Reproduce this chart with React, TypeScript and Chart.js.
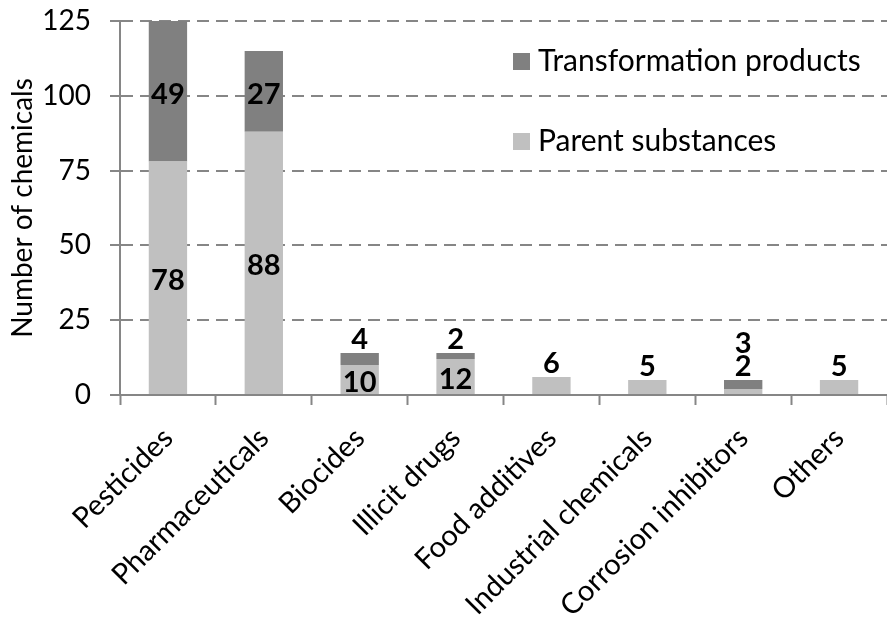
import React, { useEffect, useRef } from "react";
import { Chart, registerables } from "chart.js";

Chart.register(...registerables);

const categories = [
  "Pesticides",
  "Pharmaceuticals",
  "Biocides",
  "Illicit drugs",
  "Food additives",
  "Industrial chemicals",
  "Corrosion inhibitors",
  "Others",
];
const parentSubstances = [78, 88, 10, 12, 6, 5, 2, 5];
const transformationProducts = [49, 27, 4, 2, 0, 0, 3, 0];
const yTicks = [0, 25, 50, 75, 100, 125];

const FONT = "Lato";
const AXIS = "#868686";

const labelPlugin = {
  id: "barLabels",
  afterDatasetsDraw(chart: any) {
    const ctx = chart.ctx;
    const area = chart.chartArea;
    const mp = chart.getDatasetMeta(0);
    const mt = chart.getDatasetMeta(1);
    ctx.save();
    ctx.fillStyle = "#000";
    ctx.font = `bold 29px ${FONT}`;
    ctx.textAlign = "center";
    categories.forEach((_, i) => {
      const bp = mp.data[i];
      const bt = mt.data[i];
      const p = parentSubstances[i];
      const t = transformationProducts[i];
      const top = t > 0 ? bt.y : bp.y;
      let above = Math.max(top, area.top) + 1;
      const hP = bp.base - bp.y;
      if (hP >= 25) {
        ctx.textBaseline = "middle";
        ctx.fillText(String(p), bp.x, (bp.base + bp.y) / 2 + 3);
      } else {
        ctx.textBaseline = "bottom";
        ctx.fillText(String(p), bp.x, above);
        above -= 23;
      }
      if (t > 0) {
        const ty = Math.max(bt.y, area.top);
        const hT = bt.base - ty;
        if (hT >= 25) {
          ctx.textBaseline = "middle";
          ctx.fillText(String(t), bt.x, (bt.base + ty) / 2 + 3);
        } else {
          ctx.textBaseline = "bottom";
          ctx.fillText(String(t), bt.x, above);
          above -= 23;
        }
      }
    });
    ctx.restore();
  },
};

const legendPlugin = {
  id: "innerLegend",
  afterDraw(chart: any) {
    const ctx = chart.ctx;
    const items = [chart.data.datasets[1], chart.data.datasets[0]];
    ctx.save();
    ctx.font = `30px ${FONT}`;
    ctx.textBaseline = "middle";
    ctx.textAlign = "left";
    items.forEach((ds: any, k: number) => {
      const y = 61 + k * 80;
      ctx.fillStyle = ds.backgroundColor;
      ctx.fillRect(513, y - 8, 17, 17);
      ctx.fillStyle = "#000";
      ctx.fillText(ds.label, 538, y);
    });
    ctx.restore();
  },
};

export default function App() {
  const ref = useRef<HTMLCanvasElement>(null);
  useEffect(() => {
    document.body.style.margin = "0";
    const chart = new Chart(ref.current!, {
      type: "bar",
      data: {
        labels: categories,
        datasets: [
          {
            label: "Parent substances",
            data: parentSubstances,
            backgroundColor: "#C0C0C0",
            categoryPercentage: 1,
            barPercentage: 0.4,
          },
          {
            label: "Transformation products",
            data: transformationProducts,
            backgroundColor: "#808080",
            categoryPercentage: 1,
            barPercentage: 0.4,
          },
        ],
      },
      options: {
        responsive: false,
        animation: false,
        layout: { padding: 0 },
        plugins: { legend: { display: false }, tooltip: { enabled: false } },
        scales: {
          x: {
            stacked: true,
            border: { color: AXIS, width: 2 },
            grid: {
              offset: true,
              drawOnChartArea: false,
              drawTicks: true,
              tickLength: 10,
              tickColor: AXIS,
              tickWidth: 2,
            },
            ticks: {
              color: "#000",
              font: { family: FONT, size: 29 },
              maxRotation: 45,
              minRotation: 45,
              padding: 16,
            },
            afterFit(s: any) {
              s.height = 226;
            },
          },
          y: {
            stacked: true,
            min: 0,
            max: 125,
            afterBuildTicks(s: any) {
              s.ticks = yTicks.map((v) => ({ value: v }));
            },
            border: { color: AXIS, width: 2, dash: [12, 7] },
            grid: {
              color: AXIS,
              lineWidth: 2,
              tickLength: 10,
              tickColor: AXIS,
              tickWidth: 2,
              tickBorderDash: [],
            },
            ticks: {
              color: "#000",
              font: { family: FONT, size: 28 },
              padding: 19,
            },
            title: {
              display: true,
              text: "Number of chemicals",
              color: "#000",
              font: { family: FONT, size: 28 },
              padding: { top: 6, bottom: 0 },
            },
            afterFit(s: any) {
              s.width = 120;
              s.paddingTop = 21;
              s.paddingBottom = 0;
            },
          },
        },
      },
      plugins: [labelPlugin, legendPlugin],
    });
    return () => chart.destroy();
  }, []);
  return <canvas ref={ref} width={887} height={621} />;
}
